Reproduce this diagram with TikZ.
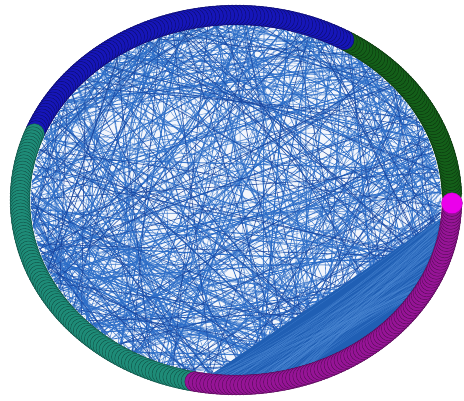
\documentclass[tikz,border=0pt]{standalone}
\usepackage{tikz}
\definecolor{cblue}{RGB}{22,22,185}
\definecolor{cgreen}{RGB}{20,95,25}
\definecolor{cteal}{RGB}{30,140,120}
\definecolor{cmag}{RGB}{150,20,150}
\definecolor{cpink}{RGB}{235,0,235}
\definecolor{chord}{RGB}{45,110,200}
\definecolor{chorddark}{RGB}{25,70,160}
\definecolor{dense}{RGB}{32,95,180}
\definecolor{densel}{RGB}{80,140,215}
\tikzset{
  bead/.style={fill=#1, draw=#1!55!black, line width=0.4pt},
}
\begin{document}
\begin{tikzpicture}[x=1pt,y=-1pt]
\useasboundingbox (0,0) rectangle (464,401);
\fill[white] (0,0) rectangle (464,401);
\fill[chord!6] (236,200) ellipse [x radius=207pt, y radius=177pt];
\pgfmathsetseed{42}
\foreach \k in {1,...,480} {
  \pgfmathsetmacro\ta{rnd*360}
  \pgfmathsetmacro\tb{\ta+35+rnd*290}
  \pgfmathsetmacro\w{0.4+rnd*0.8}
  \pgfmathsetmacro\o{0.5+rnd*0.5}
  \draw[draw=chord, line width=\w pt, opacity=\o] ({236+205*cos(\ta)},{200-175*sin(\ta)}) -- ({236+205*cos(\tb)},{200-175*sin(\tb)});
}
\foreach \k in {1,...,90} {
  \pgfmathsetmacro\ta{rnd*360}
  \pgfmathsetmacro\tb{\ta+35+rnd*290}
  \draw[draw=chorddark, line width=0.7pt, opacity=0.8] ({236+205*cos(\ta)},{200-175*sin(\ta)}) -- ({236+205*cos(\tb)},{200-175*sin(\tb)});
}
% dense region among magenta nodes
\fill[dense] plot[domain=-97:-6, samples=60] ({236+206*cos(\x)},{200-176*sin(\x)}) -- cycle;
\foreach \k in {1,...,90} {
  \pgfmathsetmacro\ta{-6-rnd*30}
  \pgfmathsetmacro\tb{-97+rnd*30}
  \draw[draw=densel, line width=0.3pt, opacity=0.5] ({236+205*cos(\ta)},{200-175*sin(\ta)}) -- ({236+205*cos(\tb)},{200-175*sin(\tb)});
}
% ring of beads
\foreach \t in {2,...,59} {\path[bead=cgreen] ({236+216*cos(\t)},{200-185*sin(\t)}) circle[radius=10pt];}
\foreach \t in {60,...,158} {\path[bead=cblue] ({236+216*cos(\t)},{200-185*sin(\t)}) circle[radius=10pt];}
\foreach \t in {159,...,258} {\path[bead=cteal] ({236+216*cos(\t)},{200-185*sin(\t)}) circle[radius=10pt];}
\foreach \t in {259,...,359} {\path[bead=cmag] ({236+216*cos(\t)},{200-185*sin(\t)}) circle[radius=10pt];}
\path[fill=cpink, draw=cpink!70!black, line width=0.3pt] ({236+216*cos(-1)},{200-185*sin(-1)}) circle[radius=10.5pt];
\end{tikzpicture}
\end{document}
